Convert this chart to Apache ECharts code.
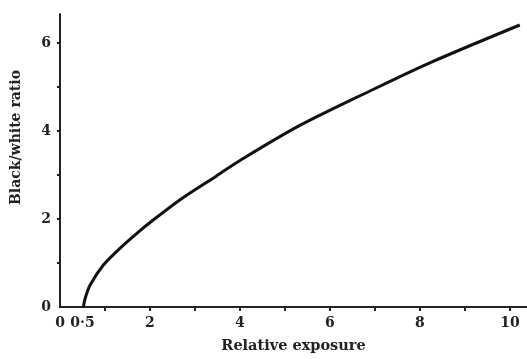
<!DOCTYPE html>
<html><head><meta charset="utf-8">
<script src="https://cdn.jsdelivr.net/npm/echarts@6/dist/echarts.min.js"></script>
<style>html,body{margin:0;padding:0;background:#fff}#c{width:527px;height:359px}</style>
</head><body><div id="c"></div>
<script>
// Data
const exposure = [0.52, 0.56, 0.67, 0.96, 1.35, 1.74, 2.0, 2.67, 3.48, 4.0, 5.3, 6.89, 8.22, 10.22];
const ratio    = [0,    0.20, 0.50, 0.95, 1.35, 1.70, 1.92, 2.44, 2.98, 3.33, 4.11, 4.91, 5.55, 6.41];
const xLabelValues = [0, 0.5, 2, 4, 6, 8, 10];
const xTickValues = [1, 2, 3, 4, 5, 6, 7, 8, 9, 10];
const yLabelValues = [0, 2, 4, 6];
const yTickValues = [1, 2, 3, 4, 5, 6];
const xName = 'Relative exposure';
const yName = 'Black/white ratio';

const font = '"DejaVu Serif", "Liberation Serif", serif';
const chart = echarts.init(document.getElementById('c'), null, {renderer: 'canvas'});
chart.setOption({
  animation: false,
  backgroundColor: '#fff',
  grid: {left: 60, right: 0, top: 14, bottom: 48, containLabel: false},
  xAxis: {
    type: 'value', min: 0, max: 10.38,
    name: xName, nameLocation: 'middle', nameGap: 32,
    nameTextStyle: {fontFamily: font, fontSize: 14.5, fontWeight: 'bold', color: '#222'},
    axisLine: {show: true, lineStyle: {color: '#222', width: 2}},
    axisTick: {show: true, customValues: xTickValues, length: 4, inside: false, lineStyle: {color: '#222', width: 2}},
    axisLabel: {customValues: xLabelValues, margin: 9, fontFamily: font, fontSize: 14, fontWeight: 'bold', color: '#222',
      formatter: v => String(v).replace('.', '·')},
    splitLine: {show: false}
  },
  yAxis: {
    type: 'value', min: 0, max: 6.66,
    name: yName, nameLocation: 'middle', nameGap: 37, nameRotate: 90,
    nameTextStyle: {fontFamily: font, fontSize: 14, fontWeight: 'bold', color: '#222', padding: [0, 0, 0, 46]},
    axisLine: {show: true, lineStyle: {color: '#222', width: 2}},
    axisTick: {show: true, customValues: yTickValues, length: 3, lineStyle: {color: '#222', width: 2}},
    axisLabel: {customValues: yLabelValues, margin: 9, fontFamily: font, fontSize: 14, fontWeight: 'bold', color: '#222'},
    splitLine: {show: false}
  },
  series: [{
    type: 'line', smooth: 0.3, showSymbol: false,
    data: exposure.map((x, i) => [x, ratio[i]]),
    lineStyle: {color: '#111', width: 3}
  }]
});
</script></body></html>
